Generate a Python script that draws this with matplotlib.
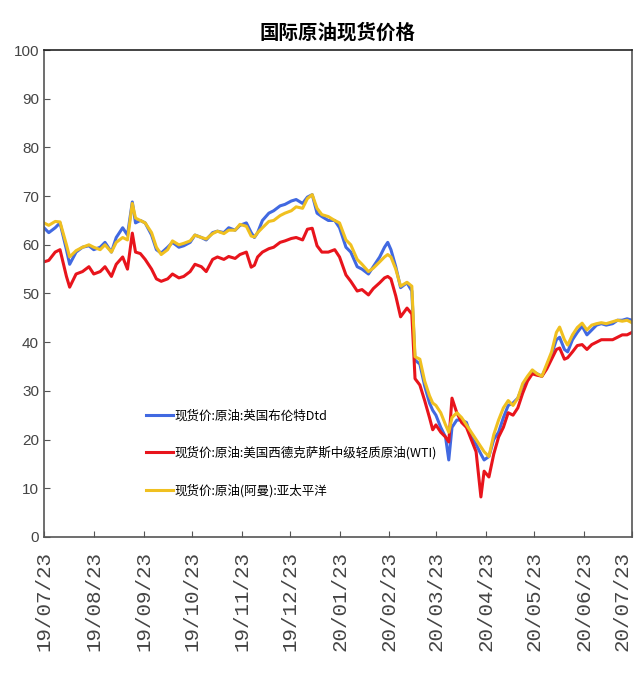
import pandas as pd
import matplotlib
matplotlib.use("Agg")
import matplotlib.pyplot as plt
import matplotlib.dates as plt_dates

plt.rcParams['font.family'] = ['Noto Sans CJK SC', 'DejaVu Sans']

# spot prices, USD/bbl
dates = ["2019-07-23", "2019-07-26", "2019-07-30", "2019-08-02", "2019-08-06", "2019-08-08", "2019-08-12", "2019-08-16", "2019-08-20", "2019-08-23",
         "2019-08-27", "2019-08-30", "2019-09-03", "2019-09-06", "2019-09-10", "2019-09-13", "2019-09-16", "2019-09-18", "2019-09-21", "2019-09-24",
         "2019-09-28", "2019-10-01", "2019-10-04", "2019-10-08", "2019-10-11", "2019-10-15", "2019-10-18", "2019-10-22", "2019-10-25", "2019-10-29",
         "2019-11-01", "2019-11-05", "2019-11-08", "2019-11-12", "2019-11-15", "2019-11-19", "2019-11-22", "2019-11-26", "2019-11-29", "2019-12-01",
         "2019-12-03", "2019-12-06", "2019-12-10", "2019-12-13", "2019-12-17", "2019-12-20", "2019-12-24", "2019-12-27", "2019-12-31", "2020-01-03",
         "2020-01-06", "2020-01-09", "2020-01-12", "2020-01-16", "2020-01-20", "2020-01-23", "2020-01-27", "2020-01-30", "2020-02-03", "2020-02-06",
         "2020-02-10", "2020-02-13", "2020-02-17", "2020-02-20", "2020-02-22", "2020-02-24", "2020-02-27", "2020-03-01", "2020-03-05", "2020-03-08",
         "2020-03-10", "2020-03-13", "2020-03-16", "2020-03-19", "2020-03-21", "2020-03-23", "2020-03-26", "2020-03-29", "2020-03-31", "2020-04-02",
         "2020-04-05", "2020-04-08", "2020-04-11", "2020-04-14", "2020-04-17", "2020-04-20", "2020-04-22", "2020-04-25", "2020-04-28", "2020-05-01",
         "2020-05-04", "2020-05-07", "2020-05-10", "2020-05-13", "2020-05-16", "2020-05-19", "2020-05-22", "2020-05-25", "2020-05-28", "2020-05-31",
         "2020-06-03", "2020-06-06", "2020-06-08", "2020-06-11", "2020-06-13", "2020-06-16", "2020-06-19", "2020-06-22", "2020-06-25", "2020-06-28",
         "2020-07-01", "2020-07-04", "2020-07-07", "2020-07-11", "2020-07-14", "2020-07-17", "2020-07-20", "2020-07-23"]

brent = [63.5, 62.5, 63.5, 64.5, 59.0, 56.0, 58.5, 59.5, 59.8, 59.0,
         59.5, 60.5, 58.5, 61.5, 63.5, 62.0, 68.8, 64.5, 65.0, 64.5,
         62.0, 59.0, 58.3, 59.5, 60.5, 59.5, 59.8, 60.5, 62.0, 61.5,
         61.0, 62.5, 62.8, 62.5, 63.5, 63.0, 64.0, 64.5, 62.5, 61.5,
         62.5, 65.0, 66.5, 67.0, 68.0, 68.3, 69.0, 69.3, 68.5, 69.8,
         70.3, 66.5, 65.8, 65.0, 65.0, 63.5, 59.5, 58.5, 55.5, 55.0,
         54.0, 55.5, 57.5, 59.5, 60.5, 59.0, 55.5, 51.2, 52.2, 50.5,
         36.3, 35.5, 31.0, 27.5, 26.0, 25.0, 22.5, 20.5, 15.8, 22.5,
         24.0, 24.0, 23.5, 20.5, 19.0, 17.0, 15.8, 16.5, 20.0, 21.5,
         24.5, 27.0, 27.5, 28.5, 31.0, 32.5, 34.0, 33.5, 33.0, 35.0,
         37.5, 40.5, 41.0, 38.5, 38.0, 40.5, 42.0, 43.3, 41.5, 42.5,
         43.5, 43.8, 43.5, 43.8, 44.5, 44.5, 44.8, 44.5]

wti = [56.5, 56.8, 58.5, 59.0, 53.5, 51.3, 54.0, 54.5, 55.5, 54.0,
       54.5, 55.5, 53.5, 56.0, 57.5, 55.0, 62.4, 58.5, 58.2, 57.0,
       55.0, 53.0, 52.5, 53.0, 54.0, 53.2, 53.5, 54.5, 56.0, 55.5,
       54.5, 57.0, 57.5, 57.0, 57.6, 57.2, 58.0, 58.5, 55.4, 55.8,
       57.5, 58.5, 59.2, 59.5, 60.5, 60.8, 61.3, 61.5, 61.0, 63.2,
       63.4, 59.8, 58.5, 58.5, 59.0, 57.5, 53.8, 52.5, 50.5, 50.8,
       49.7, 51.0, 52.2, 53.2, 53.5, 53.0, 49.5, 45.2, 47.0, 45.8,
       32.5, 31.2, 28.0, 24.5, 22.0, 23.0, 21.5, 20.5, 19.5, 28.5,
       25.5, 23.5, 22.5, 20.0, 17.5, 8.2, 13.5, 12.3, 17.0, 20.5,
       22.5, 25.5, 25.0, 26.5, 29.5, 32.0, 33.5, 33.2, 33.0, 34.5,
       36.5, 38.5, 38.8, 36.5, 36.8, 38.0, 39.3, 39.5, 38.5, 39.5,
       40.0, 40.5, 40.5, 40.5, 41.0, 41.5, 41.5, 42.0]

oman = [64.5, 64.0, 64.8, 64.7, 60.0, 57.5, 58.8, 59.5, 60.0, 59.5,
        59.0, 60.0, 58.5, 60.5, 61.5, 61.0, 68.5, 65.5, 65.0, 64.5,
        62.5, 59.5, 58.0, 59.0, 60.8, 60.0, 60.3, 60.8, 62.0, 61.5,
        61.2, 62.3, 62.8, 62.3, 63.0, 63.0, 64.2, 63.8, 61.8, 61.6,
        62.5, 63.5, 64.8, 65.0, 66.0, 66.5, 67.0, 67.8, 67.5, 69.5,
        70.3, 67.5, 66.2, 65.8, 65.0, 64.5, 61.0, 60.0, 57.0, 56.0,
        54.5, 55.2, 56.5, 57.5, 58.0, 57.5, 55.0, 51.5, 52.3, 51.5,
        37.0, 36.5, 32.0, 29.0, 27.5, 27.0, 25.5, 23.0, 21.5, 24.5,
        25.5, 24.5, 23.0, 21.5, 20.0, 18.5, 17.5, 16.5, 21.0, 24.0,
        26.5, 28.0, 27.0, 28.5, 31.5, 33.0, 34.3, 33.5, 33.0, 35.5,
        38.0, 42.0, 43.1, 40.5, 39.4, 41.5, 43.0, 43.9, 42.5, 43.5,
        43.8, 44.0, 43.8, 44.2, 44.5, 44.3, 44.5, 44.0]

labels = ["现货价:原油:英国布伦特Dtd",
          "现货价:原油:美国西德克萨斯中级轻质原油(WTI)",
          "现货价:原油(阿曼):亚太平洋"]
colors = ["#4169e1", "#e8141c", "#f0c020"]

x = pd.to_datetime(dates)

fig = plt.figure(figsize=(6.37, 6.77), dpi=100)
ax = fig.add_axes([0.069, 0.207, 0.923, 0.719])

for series, lab, c in zip([brent, wti, oman], labels, colors):
    ax.plot(x, series, color=c, lw=2.2, label=lab)

ax.set_ylim(0, 100)
ax.set_yticks(range(0, 101, 10))
ax.set_xlim(pd.Timestamp("2019-07-23"), pd.Timestamp("2020-07-23"))
ax.xaxis.set_major_locator(plt_dates.MonthLocator(bymonthday=23))
ax.xaxis.set_major_formatter(plt_dates.DateFormatter("%y/%m/%d"))

ax.tick_params(axis="both", direction="in", length=4, color="#555555")
ax.tick_params(axis="x", pad=10)
fig.canvas.draw()
for t in ax.get_yticklabels():
    t.set_family(['Liberation Sans', 'DejaVu Sans'])
    t.set_fontsize(11)
    t.set_color("#444444")
xlabels = ax.get_xticklabels()
for t in xlabels:
    t.set_family(['Liberation Mono', 'DejaVu Sans Mono'])
    t.set_fontsize(15)
    t.set_rotation(90)
    t.set_color("#444444")
# keep the last date inside the figure
xlabels[-1].set_horizontalalignment("right")

for s in ax.spines.values():
    s.set_color("#555555")
    s.set_linewidth(1.2)
ax.spines["top"].set_color("#222222")

ax.set_title("国际原油现货价格", fontsize=14, fontweight="bold", pad=8)

ax.legend(loc="upper left", bbox_to_anchor=(0.165, 0.272), frameon=False,
          fontsize=9, handlelength=2.2, handletextpad=0.1, labelspacing=1.9,
          borderaxespad=0)

fig.savefig("out.png", dpi=100)
